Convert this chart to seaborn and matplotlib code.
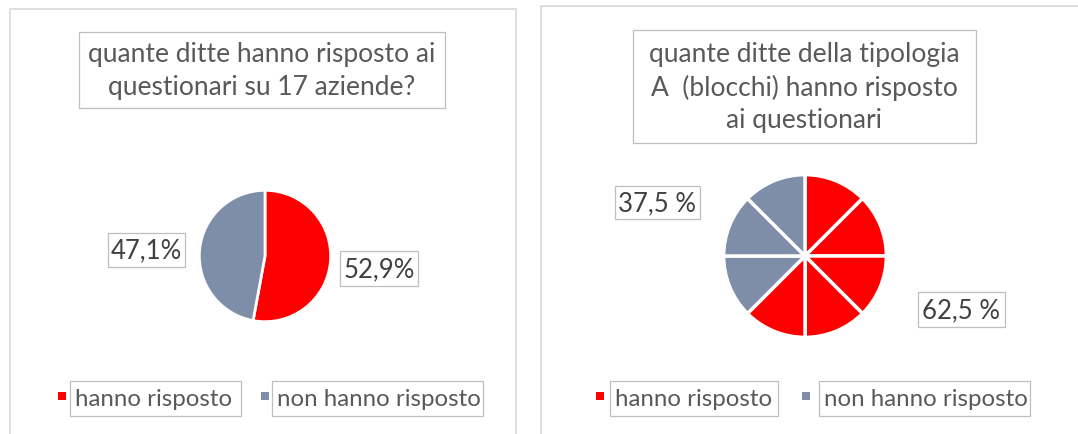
import matplotlib
matplotlib.use("Agg")
import matplotlib.pyplot as plt
from matplotlib.patches import Rectangle
import seaborn as sns

# ---- data ----
categories = ["hanno risposto", "non hanno risposto"]
left_title = "quante ditte hanno risposto ai\nquestionari su 17 aziende?"
left_values = [52.9, 47.1]
left_labels = ["52,9%", "47,1%"]

right_title = "quante ditte della tipologia\nA  (blocchi) hanno risposto\nai questionari"
right_slices = [1, 1, 1, 1, 1, 1, 1, 1]
right_slice_cat = ["hanno risposto"] * 5 + ["non hanno risposto"] * 3
right_labels = ["62,5 %", "37,5 %"]

sns.set_theme(style="white")
plt.rcParams["font.family"] = ["Lato", "DejaVu Sans"]

palette = dict(zip(categories, ["#FF0000", "#7F8EA8"]))
W, H = 1078, 435
fig = plt.figure(figsize=(W / 100, H / 100), dpi=100)
fig.patch.set_facecolor("white")


def fx(px):
    return px / W


def fy(py):
    return 1 - py / H


def rect(x0, y0, x1, y1, ec="#BFBFBF", lw=0.9):
    fig.patches.append(Rectangle((fx(x0), fy(y1)), fx(x1) - fx(x0), fy(y0) - fy(y1),
                                 transform=fig.transFigure, fill=False, ec=ec, lw=lw))


def boxed_text(x0, y0, x1, y1, text, size, color, ha="center", xpad=0, ls=1.2):
    rect(x0, y0, x1, y1)
    if ha == "center":
        fig.text(fx((x0 + x1) / 2), fy((y0 + y1) / 2), text, ha="center", va="center",
                 fontsize=size, color=color, linespacing=ls)
    else:
        fig.text(fx(x0 + xpad), fy((y0 + y1) / 2), text, ha="left", va="center",
                 fontsize=size, color=color)


def pie_axes(cx, cy, r):
    return fig.add_axes([fx(cx - r), fy(cy + r), 2 * r / W, 2 * r / H])


# panel borders
rect(10, 10, 516, 440, ec="#D9D9D9", lw=1.2)
rect(541, 7, 1085, 440, ec="#D9D9D9", lw=1.2)

# ---- left pie ----
ax1 = pie_axes(265, 257, 67)
ax1.pie(left_values, colors=[palette[c] for c in categories], startangle=90,
        counterclock=False, wedgeprops=dict(edgecolor="white", linewidth=2))
ax1.set_xlim(-1.02, 1.02)
ax1.set_ylim(-1.02, 1.02)
ax1.set_aspect("equal")
ax1.axis("off")

boxed_text(79, 33, 445, 109, left_title, 19, "#595959", ls=1.42)
boxed_text(340, 252, 418, 287, left_labels[0], 18.5, "#404040")
boxed_text(108, 234, 185, 268, left_labels[1], 18.5, "#404040")

# ---- right pie ----
ax2 = pie_axes(805, 257, 83)
ax2.pie(right_slices, colors=[palette[c] for c in right_slice_cat], startangle=90,
        counterclock=False, wedgeprops=dict(edgecolor="white", linewidth=2.5))
ax2.set_xlim(-1.02, 1.02)
ax2.set_ylim(-1.02, 1.02)
ax2.set_aspect("equal")
ax2.axis("off")

boxed_text(633, 31, 976, 144, right_title, 19, "#595959", ls=1.36)
boxed_text(918, 293, 1005, 328, right_labels[0], 18.5, "#404040")
boxed_text(615, 187, 700, 220, right_labels[1], 18.5, "#404040")

# ---- legends ----
legend_pos = [
    [(62, 70, 241), (265, 272, 483)],
    [(600, 610, 778), (806, 819, 1030)],
]
for panel in legend_pos:
    for cat, (sqx, bx0, bx1) in zip(categories, panel):
        fig.patches.append(Rectangle((fx(sqx - 4), fy(401)), 8 / W, 8 / H,
                                     transform=fig.transFigure, color=palette[cat], lw=0))
        boxed_text(bx0, 382, bx1, 417, cat, 17.3, "#595959", ha="left", xpad=5)

fig.savefig("out.png", dpi=100, facecolor="white")
